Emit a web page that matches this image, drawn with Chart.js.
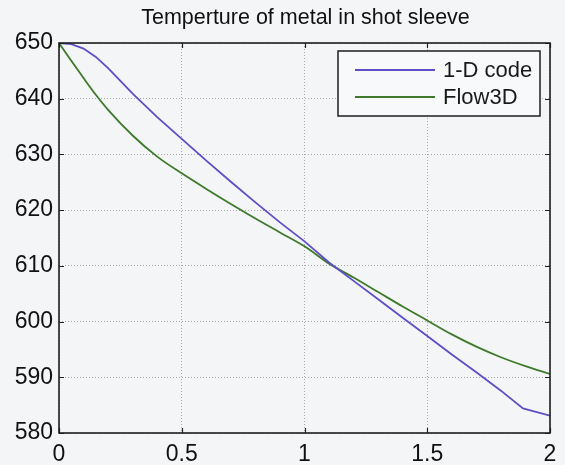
<!DOCTYPE html>
<html>
<head>
<meta charset="utf-8">
<script src="https://cdn.jsdelivr.net/npm/chart.js@4"></script>
<style>
  html, body { margin: 0; padding: 0; background: #f4f5f7; }
  #wrap { width: 565px; height: 465px; }
</style>
</head>
<body>
<div id="wrap"><canvas id="c" width="565" height="465"></canvas></div>
<script>
const chartTitle = "Temperture of metal in shot sleeve";
const seriesNames = ["1-D code", "Flow3D"];
const xTickValues = [0, 0.5, 1, 1.5, 2];
const yTickValues = [580, 590, 600, 610, 620, 630, 640, 650];

const oneDX = [0, 0.05, 0.1, 0.15, 0.2, 0.25, 0.3, 0.4, 0.5, 0.6, 0.7, 0.8, 0.9, 1.0, 1.1, 1.2, 1.3, 1.4, 1.5, 1.6, 1.7, 1.8, 1.89, 2.0];
const oneDY = [650, 649.8, 649.0, 647.5, 645.5, 643.2, 640.9, 636.7, 632.8, 628.9, 625.1, 621.4, 617.8, 614.4, 610.6, 607.3, 604.0, 600.7, 597.4, 594.1, 590.9, 587.6, 584.4, 583.1];

const flowX = [0, 0.05, 0.1, 0.15, 0.2, 0.3, 0.4, 0.5, 0.6, 0.7, 0.8, 0.9, 1.0, 1.1, 1.2, 1.3, 1.4, 1.5, 1.6, 1.7, 1.8, 1.9, 2.0];
const flowY = [650, 646.8, 643.7, 640.7, 638.0, 633.4, 629.6, 626.6, 623.8, 621.1, 618.5, 616.0, 613.5, 610.4, 607.9, 605.3, 602.7, 600.2, 597.7, 595.5, 593.6, 592.0, 590.6];

const seriesColors = ["#5d4ec8", "#3f7a2c"];
const FONT = "'Liberation Sans', Arial, Helvetica, sans-serif";

function toPoints(xs, ys) { return xs.map((x, i) => ({ x: x, y: ys[i] })); }

const boxPlugin = {
  id: 'boxPlugin',
  afterDatasetsDraw(chart) {
    const { ctx, chartArea: a, scales } = chart;
    ctx.save();
    ctx.strokeStyle = '#222';
    ctx.lineWidth = 1.2;
    const tl = 5;
    xTickValues.forEach(v => {
      const px = Math.round(scales.x.getPixelForValue(v)) + 0.5;
      ctx.beginPath();
      ctx.moveTo(px, a.bottom); ctx.lineTo(px, a.bottom - tl);
      ctx.moveTo(px, a.top); ctx.lineTo(px, a.top + tl);
      ctx.stroke();
    });
    yTickValues.forEach(v => {
      const py = Math.round(scales.y.getPixelForValue(v)) + 0.5;
      ctx.beginPath();
      ctx.moveTo(a.left, py); ctx.lineTo(a.left + tl, py);
      ctx.moveTo(a.right, py); ctx.lineTo(a.right - tl, py);
      ctx.stroke();
    });
    ctx.lineWidth = 1.6;
    ctx.strokeStyle = '#1e1e1e';
    ctx.strokeRect(a.left, a.top, a.right - a.left, a.bottom - a.top);

    // title centred over the axes
    ctx.fillStyle = '#111';
    ctx.font = "21.5px " + FONT;
    ctx.textAlign = 'center';
    ctx.textBaseline = 'middle';
    ctx.fillText(chartTitle, (a.left + a.right) / 2 + 1, 18);

    // legend
    const lx = 338, ly = 51, lw = 202, lh = 65;
    ctx.fillStyle = '#f8f9fb';
    ctx.fillRect(lx, ly, lw, lh);
    ctx.lineWidth = 1.5;
    ctx.strokeStyle = '#1e1e1e';
    ctx.strokeRect(lx, ly, lw, lh);
    chart.data.datasets.forEach((ds, i) => {
      const yy = ly + 19 + i * 27;
      ctx.strokeStyle = ds.borderColor;
      ctx.lineWidth = 1.8;
      ctx.beginPath();
      ctx.moveTo(355, yy); ctx.lineTo(435, yy);
      ctx.stroke();
      ctx.fillStyle = '#1a1a1a';
      ctx.font = "22px " + FONT;
      ctx.textBaseline = 'middle';
      ctx.textAlign = 'left';
      ctx.fillText(ds.label, 443, yy + 1);
    });
    ctx.restore();
  }
};

const bgPlugin = {
  id: 'bgPlugin',
  beforeDraw(chart) {
    const { ctx, width, height } = chart;
    ctx.save();
    ctx.fillStyle = '#f4f5f7';
    ctx.fillRect(0, 0, width, height);
    ctx.restore();
  }
};

new Chart(document.getElementById('c'), {
  type: 'line',
  data: {
    datasets: [
      { label: seriesNames[0], data: toPoints(oneDX, oneDY), borderColor: seriesColors[0], borderWidth: 1.8, pointRadius: 0, fill: false, tension: 0 },
      { label: seriesNames[1], data: toPoints(flowX, flowY), borderColor: seriesColors[1], borderWidth: 1.8, pointRadius: 0, fill: false, cubicInterpolationMode: 'monotone' }
    ]
  },
  options: {
    responsive: false,
    animation: false,
    devicePixelRatio: 1,
    layout: { padding: { top: 43, right: 15, bottom: 0, left: 0 } },
    plugins: {
      legend: { display: false },
      tooltip: { enabled: false },
      title: { display: false }
    },
    scales: {
      x: {
        type: 'linear',
        min: 0, max: 2,
        afterBuildTicks(scale) { scale.ticks = xTickValues.map(v => ({ value: v })); },
        afterFit(scale) { scale.height = 32; },
        ticks: {
          color: '#111',
          font: { family: FONT, size: 23 },
          padding: 8,
          maxRotation: 0,
          callback: v => String(v)
        },
        grid: { color: '#a9a9a9', lineWidth: 1, drawTicks: false },
        border: { display: false, dash: [1, 2] }
      },
      y: {
        type: 'linear',
        min: 580, max: 650,
        afterBuildTicks(scale) { scale.ticks = yTickValues.map(v => ({ value: v })); },
        afterFit(scale) { scale.width = 59; },
        ticks: {
          color: '#111',
          font: { family: FONT, size: 23 },
          padding: 6,
          callback: v => String(v)
        },
        grid: { color: '#a9a9a9', lineWidth: 1, drawTicks: false },
        border: { display: false, dash: [1, 2] }
      }
    }
  },
  plugins: [bgPlugin, boxPlugin]
});
</script>
</body>
</html>
